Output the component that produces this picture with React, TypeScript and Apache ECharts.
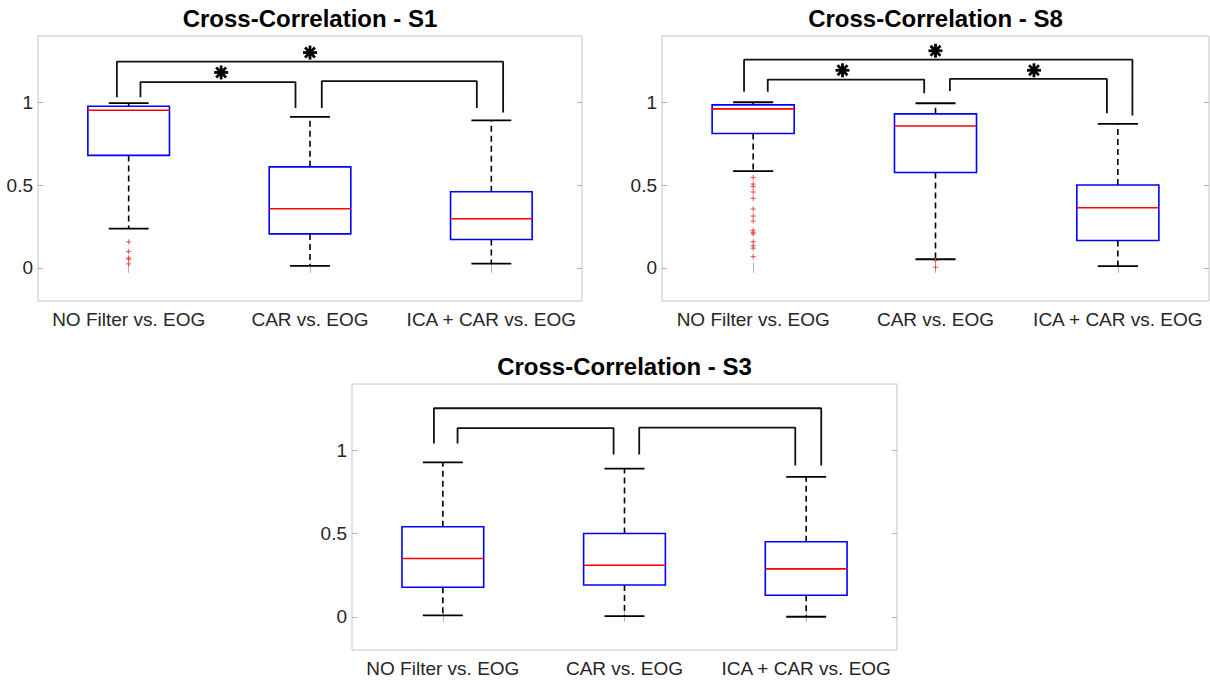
import React, { useEffect, useRef } from "react";
import * as echarts from "echarts";

// ---------- data ----------
const categories = ["NO Filter vs. EOG", "CAR vs. EOG", "ICA + CAR vs. EOG"];
const categoryPositions = [1, 2, 3];
const yTickValues = [0, 0.5, 1];
const titles = ["Cross-Correlation - S1", "Cross-Correlation - S8", "Cross-Correlation - S3"];

// box statistics per category: [lower whisker, Q1, median, Q3, upper whisker]
const s1Stats = [
  [0.237, 0.679, 0.952, 0.976, 0.995],
  [0.012, 0.205, 0.357, 0.61, 0.912],
  [0.026, 0.171, 0.297, 0.46, 0.89],
];
const s8Stats = [
  [0.584, 0.811, 0.96, 0.984, 1.0],
  [0.052, 0.576, 0.857, 0.93, 0.994],
  [0.01, 0.165, 0.363, 0.5, 0.869],
];
const s3Stats = [
  [0.008, 0.177, 0.35, 0.541, 0.928],
  [0.004, 0.191, 0.31, 0.501, 0.891],
  [0.0, 0.129, 0.288, 0.451, 0.841],
];

// outliers: [category position, value]
const s1Outliers = [
  [1, 0.157], [1, 0.098], [1, 0.06], [1, 0.052], [1, 0.024],
];
const s8Outliers = [
  [1, 0.546], [1, 0.506], [1, 0.49], [1, 0.458], [1, 0.42], [1, 0.355], [1, 0.313],
  [1, 0.283], [1, 0.227], [1, 0.215], [1, 0.205], [1, 0.158], [1, 0.133], [1, 0.119],
  [1, 0.068], [2, 0.044], [2, 0.004],
];
const s3Outliers: number[][] = [];

// significance brackets: [xLeft, yLeftEnd, xRight, yRightEnd, yTop]
const s1Brackets = [
  [0.935, 1.03, 3.065, 0.938, 1.245],
  [1.065, 1.03, 1.92, 0.966, 1.122],
  [2.065, 0.966, 2.92, 0.966, 1.127],
];
const s8Brackets = [
  [0.95, 1.064, 3.08, 0.92, 1.257],
  [1.08, 1.064, 1.938, 1.054, 1.137],
  [2.079, 1.068, 2.94, 0.934, 1.141],
];
const s3Brackets = [
  [0.951, 1.042, 3.083, 0.91, 1.254],
  [1.081, 1.042, 1.94, 0.976, 1.135],
  [2.081, 0.976, 2.94, 0.91, 1.137],
];

// asterisks: [x, y]
const s1Stars = [[2.0, 1.3], [1.51, 1.18]];
const s8Stars = [[2.0, 1.311], [1.49, 1.193], [2.54, 1.193]];
const s3Stars: number[][] = [];

// ---------- layout / style ----------
const FONT = "'Liberation Sans', Arial, Helvetica, sans-serif";
const grids = [
  { left: 38, top: 36, width: 544, height: 265 },
  { left: 662, top: 36, width: 547, height: 265 },
  { left: 352, top: 384, width: 545, height: 266 },
];
const BOX_W = 0.45;
const CAP_W = 0.22;
const LABEL_SIZE = 19;
const TITLE_SIZE = 24;

const panels = [
  { stats: s1Stats, outliers: s1Outliers, brackets: s1Brackets, stars: s1Stars },
  { stats: s8Stats, outliers: s8Outliers, brackets: s8Brackets, stars: s8Stars },
  { stats: s3Stats, outliers: s3Outliers, brackets: s3Brackets, stars: s3Stars },
];

function boxRender(params: any, api: any) {
  const x = api.value(0);
  const lo = api.coord([x, api.value(1)]);
  const q1 = api.coord([x, api.value(2)]);
  const md = api.coord([x, api.value(3)]);
  const q3 = api.coord([x, api.value(4)]);
  const hi = api.coord([x, api.value(5)]);
  const half = api.size([BOX_W, 0])[0] / 2;
  const capHalf = api.size([CAP_W, 0])[0] / 2;
  const cx = lo[0];
  const dash = { stroke: "#000", lineWidth: 1.6, lineDash: [6, 4], fill: "none" };
  const solid = { stroke: "#000", lineWidth: 1.8, fill: "none" };
  return {
    type: "group",
    children: [
      { type: "line", shape: { x1: cx, y1: q3[1], x2: cx, y2: hi[1] }, style: dash },
      { type: "line", shape: { x1: cx, y1: q1[1], x2: cx, y2: lo[1] }, style: dash },
      { type: "line", shape: { x1: cx - capHalf, y1: hi[1], x2: cx + capHalf, y2: hi[1] }, style: solid },
      { type: "line", shape: { x1: cx - capHalf, y1: lo[1], x2: cx + capHalf, y2: lo[1] }, style: solid },
      {
        type: "rect",
        shape: { x: cx - half, y: q3[1], width: half * 2, height: q1[1] - q3[1] },
        style: { fill: "none", stroke: "#0000ff", lineWidth: 1.6 },
      },
      {
        type: "line",
        shape: { x1: cx - half, y1: md[1], x2: cx + half, y2: md[1] },
        style: { stroke: "#ff0000", lineWidth: 1.6 },
      },
    ],
  };
}

function plusRender(params: any, api: any) {
  const p = api.coord([api.value(0), api.value(1)]);
  const s = 2.6;
  const st = { stroke: "#dd4444", lineWidth: 0.9 };
  return {
    type: "group",
    children: [
      { type: "line", shape: { x1: p[0] - s, y1: p[1], x2: p[0] + s, y2: p[1] }, style: st },
      { type: "line", shape: { x1: p[0], y1: p[1] - s, x2: p[0], y2: p[1] + s }, style: st },
    ],
  };
}

function starRender(params: any, api: any) {
  const p = api.coord([api.value(0), api.value(1)]);
  const r = 7;
  const st = { stroke: "#000", lineWidth: 2.8 };
  const children: any[] = [];
  for (let k = 0; k < 4; k++) {
    const a = (k * Math.PI) / 4;
    const dx = Math.cos(a) * r;
    const dy = Math.sin(a) * r;
    children.push({ type: "line", shape: { x1: p[0] - dx, y1: p[1] - dy, x2: p[0] + dx, y2: p[1] + dy }, style: st });
  }
  return { type: "group", children };
}

function buildOption() {
  const grid: any[] = [];
  const xAxis: any[] = [];
  const yAxis: any[] = [];
  const series: any[] = [];
  const graphic: any[] = [];
  const tickStyle = { color: "#b0b0b0", width: 1 };

  panels.forEach((pnl, i) => {
    const g = grids[i];
    grid.push({ ...g, show: true, borderColor: "#c4c4c4", borderWidth: 1, backgroundColor: "#fff" });
    xAxis.push({
      type: "value", gridIndex: i, position: "bottom", min: 0.5, max: 3.5,
      axisLine: { show: false }, splitLine: { show: false },
      axisTick: { show: true, inside: true, length: 5, customValues: categoryPositions, lineStyle: tickStyle },
      axisLabel: {
        show: true, customValues: categoryPositions, margin: 9, fontSize: LABEL_SIZE, color: "#262626", fontFamily: FONT,
        formatter: (v: number) => categories[Math.round(v) - 1] || "",
      },
    });
    xAxis.push({
      type: "value", gridIndex: i, position: "top", min: 0.5, max: 3.5,
      axisLine: { show: false }, splitLine: { show: false },
      axisTick: { show: true, inside: true, length: 5, customValues: categoryPositions, lineStyle: tickStyle },
      axisLabel: { show: false },
    });
    yAxis.push({
      type: "value", gridIndex: i, position: "left", min: -0.2, max: 1.4,
      axisLine: { show: false }, splitLine: { show: false },
      axisTick: { show: true, inside: true, length: 5, customValues: yTickValues, lineStyle: tickStyle },
      axisLabel: {
        show: true, customValues: yTickValues, margin: 5, fontSize: LABEL_SIZE, color: "#262626", fontFamily: FONT,
        formatter: (v: number) => String(v),
      },
    });
    yAxis.push({
      type: "value", gridIndex: i, position: "right", min: -0.2, max: 1.4,
      axisLine: { show: false }, splitLine: { show: false },
      axisTick: { show: true, inside: true, length: 5, customValues: yTickValues, lineStyle: tickStyle },
      axisLabel: { show: false },
    });
    const xi = i * 2;
    const yi = i * 2;
    series.push({
      type: "custom", xAxisIndex: xi, yAxisIndex: yi, renderItem: boxRender,
      data: pnl.stats.map((s, k) => [categoryPositions[k], ...s]),
      encode: { x: 0, y: [1, 2, 3, 4, 5] },
      z: 3,
    });
    if (pnl.outliers.length) {
      series.push({
        type: "custom", xAxisIndex: xi, yAxisIndex: yi, renderItem: plusRender,
        data: pnl.outliers, encode: { x: 0, y: 1 }, z: 4,
      });
    }
    pnl.brackets.forEach((b) => {
      series.push({
        type: "line", xAxisIndex: xi, yAxisIndex: yi, symbol: "none", silent: true,
        lineStyle: { color: "#111", width: 1.8 },
        data: [[b[0], b[1]], [b[0], b[4]], [b[2], b[4]], [b[2], b[3]]],
        z: 5,
      });
    });
    if (pnl.stars.length) {
      series.push({
        type: "custom", xAxisIndex: xi, yAxisIndex: yi, renderItem: starRender,
        data: pnl.stars, encode: { x: 0, y: 1 }, z: 6,
      });
    }
    graphic.push({
      type: "text",
      x: g.left + g.width / 2,
      y: g.top - 18,
      style: {
        text: titles[i], font: `bold ${TITLE_SIZE}px ${FONT}`, fill: "#000",
        textAlign: "center", textVerticalAlign: "middle",
      },
    });
  });

  return { animation: false, backgroundColor: "#fff", grid, xAxis, yAxis, series, graphic };
}

export default function App() {
  const ref = useRef<HTMLDivElement>(null);
  useEffect(() => {
    if (!ref.current) return;
    const chart = echarts.init(ref.current, undefined, { renderer: "svg" });
    chart.setOption(buildOption() as any);
    return () => chart.dispose();
  }, []);
  return (
    <div
      ref={ref}
      style={{ position: "absolute", left: 0, top: 0, width: 1210, height: 680, background: "#fff" }}
    />
  );
}
